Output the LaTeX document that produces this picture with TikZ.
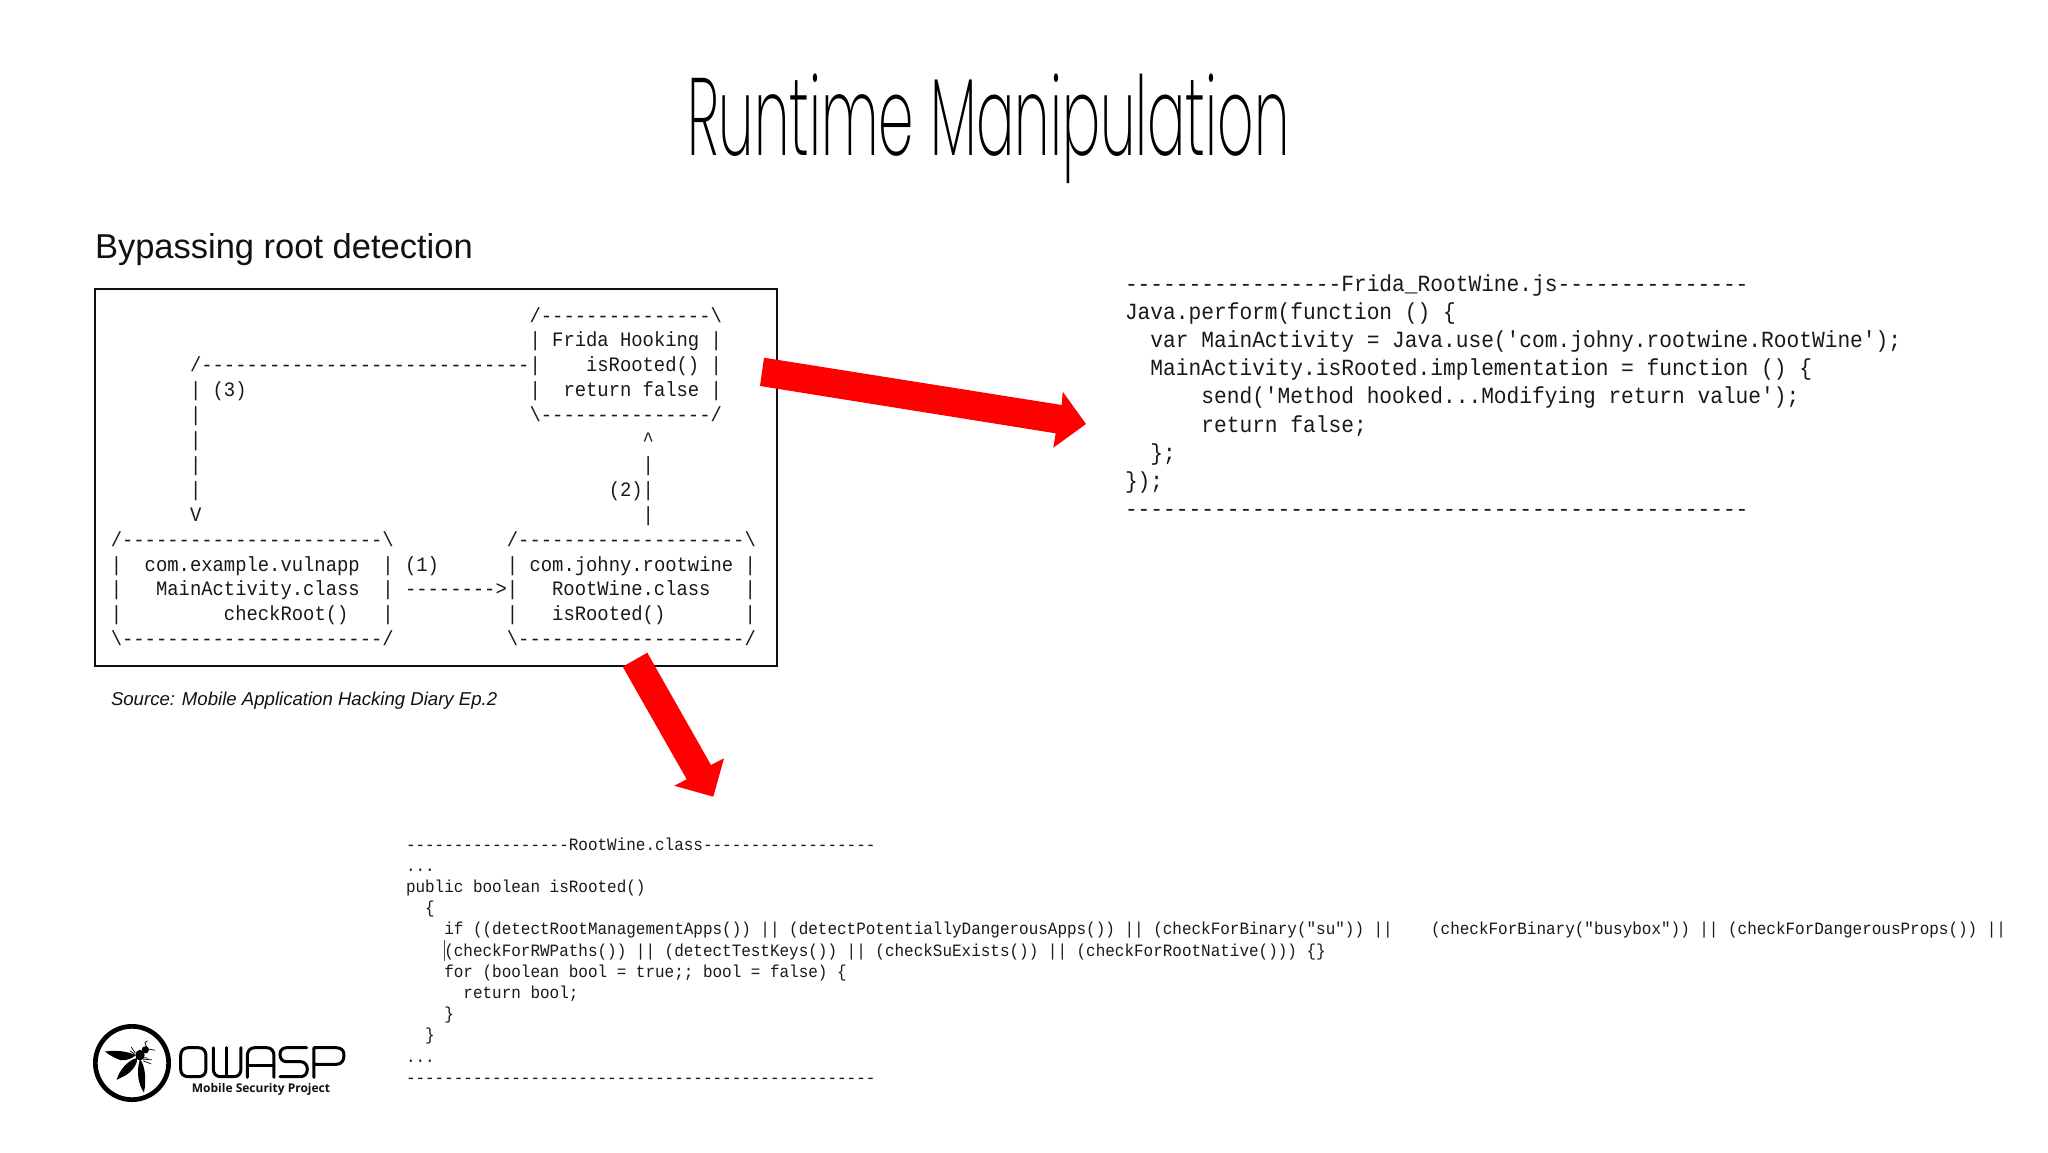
\documentclass[tikz,border=0pt]{standalone}
\usepackage{fontspec}
\setmainfont{Liberation Sans}
\newfontfamily\boxmono[FakeStretch=0.92]{Liberation Mono}
\newfontfamily\rightmono[FakeStretch=0.916]{Liberation Mono}
\newfontfamily\lowmono[FakeStretch=0.923]{Liberation Mono}
\newfontfamily\titlefont[FakeStretch=0.516]{Poppins ExtraLight}
\newfontfamily\logofont[Ligatures=NoCommon]{Open Sans}
\newcommand{\asciirow}[3]{\node[asciitext] (#1) at (110.8,{322+24.9*#2}) {#3};}
\newcommand{\jsrow}[3]{\node[jstext] (#1) at (1125,{291+28.2*#2}) {#3};}
\newcommand{\javarow}[3]{\node[javatext] (#1) at (406,{850+21.2*#2}) {#3};}
\newcommand{\bsl}{\textbackslash}
\definecolor{inkblack}{HTML}{111111}
\definecolor{arrowred}{HTML}{FF0000}
\tikzset{
  plainlabel/.style={inner sep=0pt,outer sep=0pt,anchor=base west,text=inkblack},
  asciitext/.style={plainlabel,font=\boxmono\fontsize{20.5pt}{20.5pt}\selectfont\frenchspacing,text=black!90},
  jstext/.style={plainlabel,font=\rightmono\fontsize{23.15pt}{23.15pt}\selectfont\frenchspacing,text=black!90},
  javatext/.style={plainlabel,font=\lowmono\fontsize{17.3pt}{17.3pt}\selectfont\frenchspacing,text=black!90},
  bigarrow/.style={fill=arrowred,draw=none},
  logostroke/.style={draw=black,line width=3pt,line cap=round,line join=round,fill=none},
  waspfill/.style={fill=black,draw=none},
  waspleg/.style={draw=black,line width=0.7pt,line cap=round}
}
\begin{document}
\begin{tikzpicture}[x=1pt,y=-1pt]
\useasboundingbox[fill=white] (0,0) rectangle (2048,1152);
% title
\node[plainlabel,font=\titlefont\fontsize{110pt}{110pt}\selectfont,text=black] (title) at (687,155) {Runtime Manipulation};
\node[plainlabel,font=\fontsize{34.5pt}{34.5pt}\selectfont] (subtitle) at (95,258) {Bypassing root detection};
% framed box
\node[draw=inkblack,line width=2pt,minimum width=682.5pt,minimum height=377pt,inner sep=0pt,anchor=north west] (frame) at (93.5,288) {};
\asciirow{r0}{0}{~~~~~~~~~~~~~~~~~~~~~~~~~~~~~~~~~~~~~/---------------\bsl}
\asciirow{r1}{1}{~~~~~~~~~~~~~~~~~~~~~~~~~~~~~~~~~~~~~| Frida Hooking |}
\asciirow{r2}{2}{~~~~~~~/-----------------------------|~~~~isRooted() |}
\asciirow{r3}{3}{~~~~~~~| (3)~~~~~~~~~~~~~~~~~~~~~~~~~|~~return false |}
\asciirow{r4}{4}{~~~~~~~|~~~~~~~~~~~~~~~~~~~~~~~~~~~~~\bsl---------------/}
\asciirow{r5}{5}{~~~~~~~|~~~~~~~~~~~~~~~~~~~~~~~~~~~~~~~~~~~~~~~\textasciicircum}
\asciirow{r6}{6}{~~~~~~~|~~~~~~~~~~~~~~~~~~~~~~~~~~~~~~~~~~~~~~~|}
\asciirow{r7}{7}{~~~~~~~|~~~~~~~~~~~~~~~~~~~~~~~~~~~~~~~~~~~~(2)|}
\asciirow{r8}{8}{~~~~~~~V~~~~~~~~~~~~~~~~~~~~~~~~~~~~~~~~~~~~~~~|}
\asciirow{r9}{9}{/-----------------------\bsl~~~~~~~~~~/--------------------\bsl}
\asciirow{r10}{10}{|~~com.example.vulnapp~~| (1)~~~~~~| com.johny.rootwine |}
\asciirow{r11}{11}{|~~~MainActivity.class~~| -------->|~~~RootWine.class~~~|}
\asciirow{r12}{12}{|~~~~~~~~~checkRoot()~~~|~~~~~~~~~~|~~~isRooted()~~~~~~~|}
\asciirow{r13}{13}{\bsl-----------------------/~~~~~~~~~~\bsl--------------------/}
% source
\node[plainlabel,font=\itshape\fontsize{18.6pt}{18.6pt}\selectfont] (source) at (111,705) {Source: Mobile Application Hacking Diary Ep.2};
% right code
\jsrow{j0}{0}{-----------------Frida\_RootWine.js---------------}
\jsrow{j1}{1}{Java.perform(function () \{}
\jsrow{j2}{2}{~~var MainActivity = Java.use('com.johny.rootwine.RootWine');}
\jsrow{j3}{3}{~~MainActivity.isRooted.implementation = function () \{}
\jsrow{j4}{4}{~~~~~~send('Method hooked...Modifying return value');}
\jsrow{j5}{5}{~~~~~~return false;}
\jsrow{j6}{6}{~~\};}
\jsrow{j7}{7}{\});}
\jsrow{j8}{8}{-------------------------------------------------}
% lower code
\javarow{c0}{0}{-----------------RootWine.class------------------}
\javarow{c1}{1}{...}
\javarow{c2}{2}{public boolean isRooted()}
\javarow{c3}{3}{~~\{}
\javarow{c4}{4}{~~~~if ((detectRootManagementApps()) || (detectPotentiallyDangerousApps()) || (checkForBinary("su")) ||~~~~(checkForBinary("busybox")) || (checkForDangerousProps()) ||}
\javarow{c5}{5}{~~~~(checkForRWPaths()) || (detectTestKeys()) || (checkSuExists()) || (checkForRootNative())) \{\}}
\javarow{c6}{6}{~~~~for (boolean bool = true;; bool = false) \{}
\javarow{c7}{7}{~~~~~~return bool;}
\javarow{c8}{8}{~~~~\}}
\javarow{c9}{9}{~~\}}
\javarow{c10}{10}{...}
\javarow{c11}{11}{-------------------------------------------------}
\draw[black!70,line width=0.8pt] (444.5,940) -- (444.5,961);
% red arrows
\fill[bigarrow] (764,357.7) -- (1061.7,405) -- (1062.7,391.7) -- (1086,424) -- (1053.3,447.7) -- (1055.7,433.3) -- (760,386) -- cycle;
\fill[bigarrow] (647.3,652.7) -- (622.7,666.7) -- (686.7,779.3) -- (674.3,785.7) -- (713.3,796.7) -- (724,758.3) -- (711,765) -- cycle;
% OWASP logo
\begin{scope}[shift={(90,1016.5)},x=0.3333pt,y=-0.3333pt]
  \draw[black,line width=4.7pt] (126,139.5) circle[radius=110];
  \fill[waspfill] (45,105) .. controls (80,100) and (115,105) .. (137,116) .. controls (125,128) and (105,133) .. (92,131) .. controls (75,125) and (58,116) .. (45,105) -- cycle;
  \fill[waspfill] (80,190) .. controls (88,160) and (115,130) .. (142,124) .. controls (143,145) and (125,165) .. (108,176) -- cycle;
  \fill[waspfill] (162,228) .. controls (145,205) and (138,165) .. (150,128) .. controls (165,145) and (170,190) .. (162,228) -- cycle;
  \fill[waspfill] (150,116) ellipse[x radius=14,y radius=16];
  \fill[waspfill] (166,100) circle[radius=11];
  \draw[waspleg] (170,93) -- (165,78) -- (172,73);
  \draw[waspleg] (172,97) -- (195,101);
  \draw[waspleg] (136,110) -- (124,92);
  \draw[waspleg] (134,113) -- (120,103);
  \draw[waspleg] (160,128) -- (185,130);
  \draw[waspleg] (160,133) -- (183,142);
  \draw[waspleg] (160,123) -- (172,125);
\end{scope}
\begin{scope}[shift={(170,1035)},x=0.3333pt,y=-0.3333pt]
  \draw[logostroke] (55,38) -- (85,38) .. controls (100,38) and (108,48) .. (108,62) -- (108,102) .. controls (108,116) and (100,125) .. (85,125) -- (55,125) .. controls (40,125) and (32,116) .. (32,102) -- (32,62) .. controls (32,48) and (40,38) .. (55,38) -- cycle;
  \draw[logostroke] (130,38) -- (130,102) .. controls (130,116) and (138,125) .. (152,125) -- (192,125) .. controls (205,125) and (213,116) .. (213,102) -- (213,38);
  \draw[logostroke] (171,38) -- (171,125);
  \draw[logostroke] (232,127) -- (232,62) .. controls (232,48) and (240,38) .. (255,38) -- (290,38) .. controls (304,38) and (312,48) .. (312,62) -- (312,127);
  \draw[logostroke] (232,92) -- (312,92);
  \draw[logostroke] (410,38) -- (350,38) .. controls (338,38) and (330,46) .. (330,58) .. controls (330,72) and (338,80) .. (350,80) -- (392,80) .. controls (404,80) and (412,90) .. (412,102) .. controls (412,116) and (404,125) .. (392,125) -- (330,125);
  \draw[logostroke] (432,127) -- (432,38) -- (498,38) .. controls (514,38) and (522,46) .. (522,60) .. controls (522,78) and (514,88) .. (498,88) -- (432,88);
\end{scope}
\node[inner sep=0pt,outer sep=0pt,font=\logofont\bfseries\fontsize{12pt}{12pt}\selectfont,text=inkblack] (mobile) at (261,1089) {Mobile Security Project};
\end{tikzpicture}
\end{document}
